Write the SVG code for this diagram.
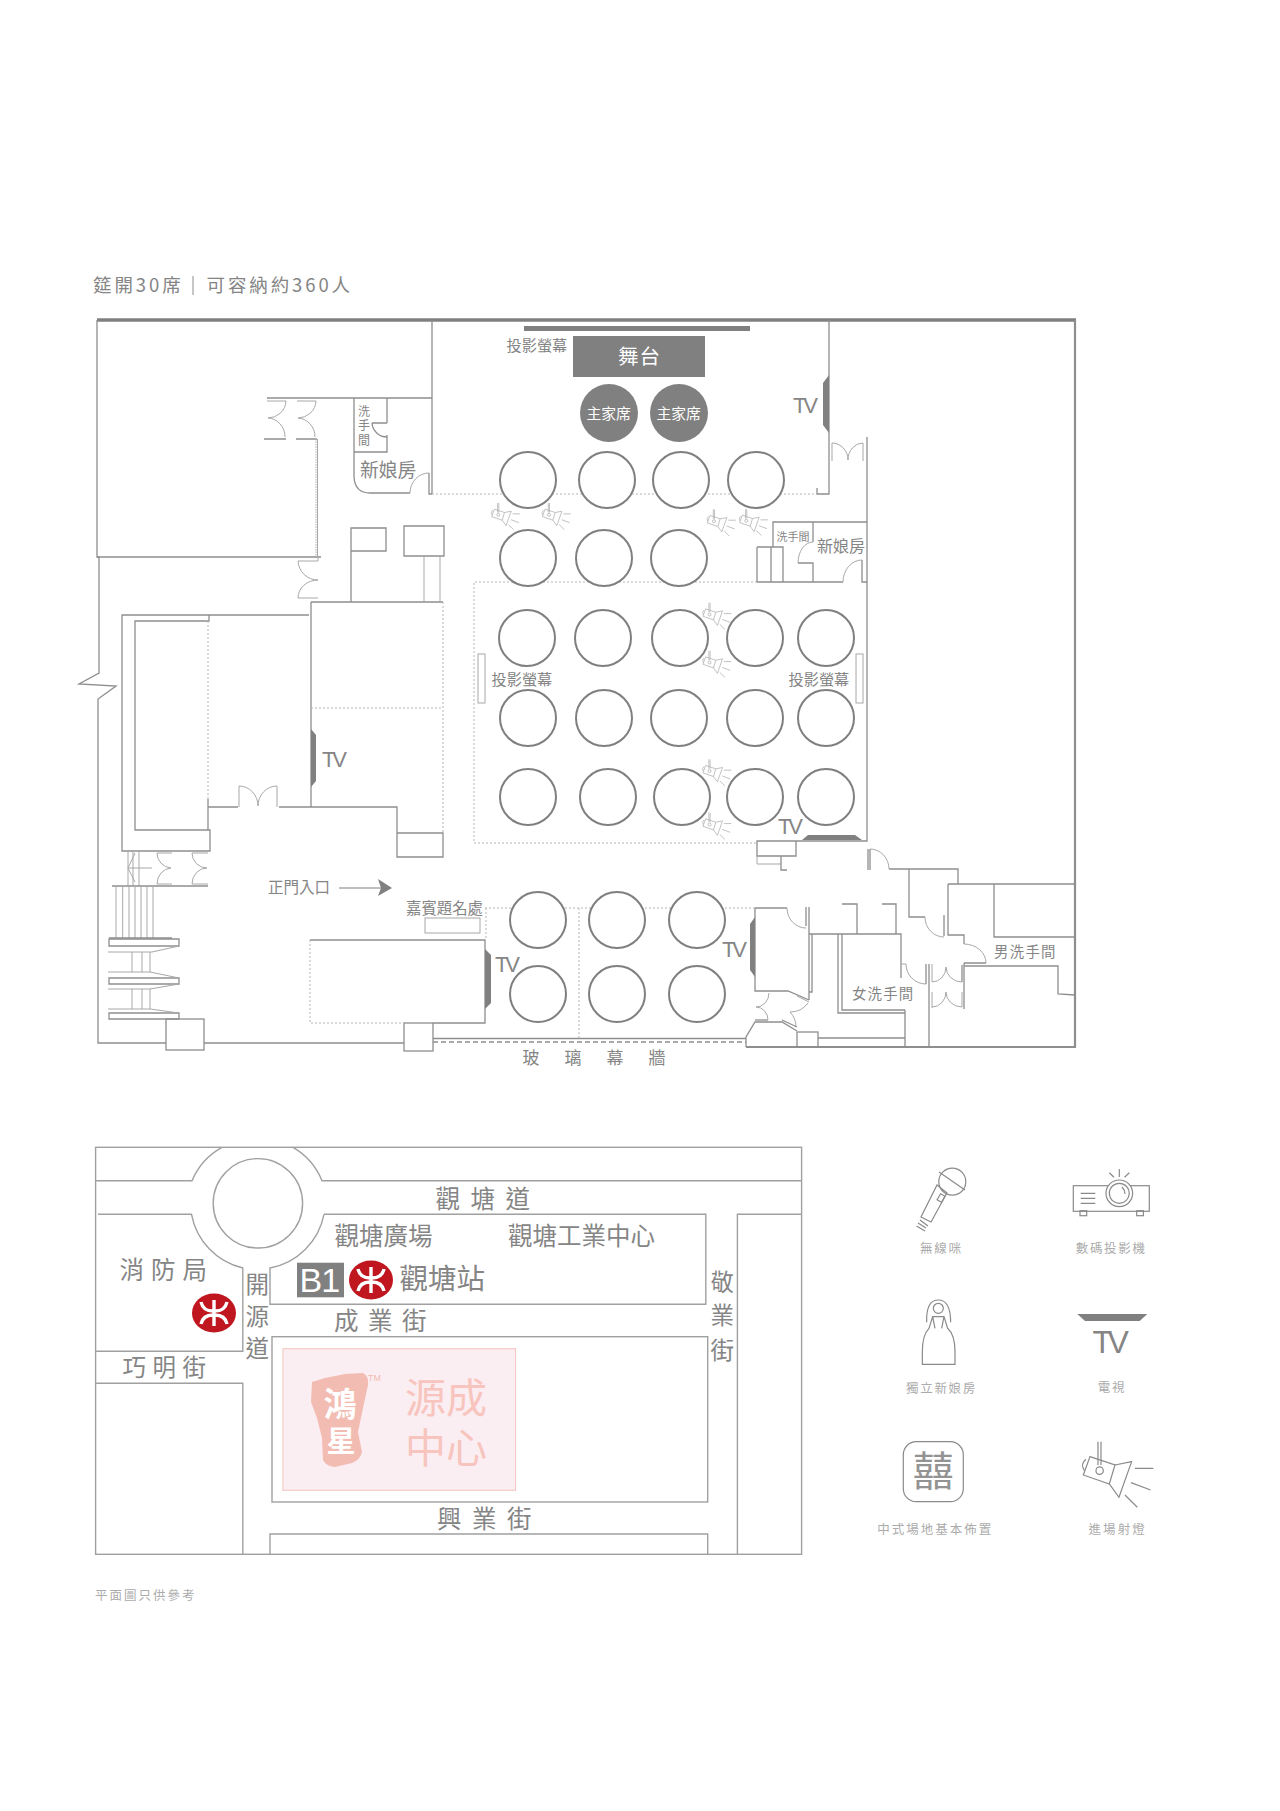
<svg xmlns="http://www.w3.org/2000/svg" xmlns:xlink="http://www.w3.org/1999/xlink" width="1280" height="1811" viewBox="0 0 1280 1811">
<style>
text{font-family:"Noto Sans CJK TC","Noto Sans CJK SC",sans-serif;fill:#858585}
.lat{font-family:"Liberation Sans",Arial,sans-serif}
.tv{letter-spacing:-3.2px;font-size:22px}
.w{fill:none;stroke:#8e8e8e;stroke-width:1.3}
.t{fill:none;stroke:#a8a8a8;stroke-width:1}
.d{fill:none;stroke:#b5b5b5;stroke-width:1;stroke-dasharray:2 2}
.tb{fill:#fff;stroke:#7f7f7f;stroke-width:2}
.dk{fill:#808080}
.m{fill:none;stroke:#a0a0a0;stroke-width:1.4}
.lg{fill:none;stroke:#8a8a8a;stroke-width:1.2}
.cap{fill:#ababab;font-size:12.5px;letter-spacing:1.7px}
</style>
<defs>
<g id="spot" fill="none">
<path d="M714 845V915M723 845V915"/><circle cx="719" cy="932" r="11"/>
<path d="M690 890L765 915L748 972L670 945Z"/><path d="M678 898Q660 912 673 932"/>
<path d="M765 915L815 905L777 1012L748 972"/>
<path d="M825 925H880M813 968L872 990M795 1005L832 1042"/>
</g>
<g id="mtr">
<ellipse cx="0" cy="0" rx="22" ry="19.6" fill="#bf1620"/>
<path d="M0 -13V13M-13 -11Q-11 -2 -1 -2H1Q11 -2 13 -11M-13 11Q-11 2 -1 2H1Q11 2 13 11" fill="none" stroke="#fff" stroke-width="3.4"/>
</g>
</defs>
<rect width="1280" height="1811" fill="#fff"/>

<g id="title">
<text x="93" y="292" font-size="18.500" letter-spacing="2.900" fill="#7c7c7c">筵開30席</text>
<line x1="193" y1="276" x2="193" y2="295" stroke="#a0a0a0" stroke-width="1.2"/>
<text x="206.500" y="292" font-size="18.500" letter-spacing="2.900" fill="#7c7c7c">可容納約360人</text>
</g>

<g id="floorplan">
<path d="M97 320H1076" fill="none" stroke="#808080" stroke-width="3.6"/>
<path class="w" style="stroke-width:2.2" d="M1075 320V1047H746M746 1047"/>
<g id="walls-left">
<path class="w" d="M97 320V557L99 557V673L79 684L116 686L98 699V1043H166"/>
<path class="w" d="M97 557H321M432 320V494"/>
<path class="w" d="M267 398H432"/>
<path class="w" d="M354 398V477Q355 493 370 493H410M387 398V423M387 435V452H354"/>
<path class="w" d="M429 473V494H432"/>
<path class="w" d="M372 423H387M372 423A15 15 0 0 0 387 437"/>
<path class="t" d="M410 493A19 20 0 0 1 429 473"/>
<path class="t" d="M267 401H286A18 18 0 0 1 268 418A18 19 0 0 1 285 437M297 401H316A18 18 0 0 1 298 418A18 19 0 0 1 315 437"/>
<path class="w" d="M264 439H286M296 439H317"/>
<path class="d" d="M316 439V557" style="stroke-dasharray:1.500 1"/>
<path class="t" d="M317.500 439V557"/>
<path class="t" d="M318 557V561H298A20 20 0 0 0 318 580A20 18 0 0 0 298 598H318"/>
<path class="w" d="M311 602H443M311 602V807"/>
<path class="d" d="M443 602V832M311 708H443"/>
<path class="w" d="M404 526H444V556H404ZM351 602V528H386V551H351"/>
<path class="t" d="M424 556V602M440 556V602"/>
<path class="w" d="M309 615H122V851H210V830H135V621H209V615"/>
<path class="d" d="M208 621V799"/>
<path class="w" d="M208 799V830"/>
<path class="w" d="M208 807H238M279 807H397V857H443V833H397"/>
<path class="t" d="M239 807V786A19 20 0 0 1 258 806A19 20 0 0 1 277 786V807"/>
<path class="t" d="M128 851V886M133 851V886M139 851V886M152 868H129M135 853L128 868L135 882"/>
<path class="t" d="M157 853H172M157 853A15 15 0 0 0 171 868A15 16 0 0 0 157 884H172M192 853H208M192 853A15 15 0 0 0 207 868A15 16 0 0 0 192 884H208"/>
<path class="w" d="M112 886H208"/>
<path class="t" d="M116 886V938M122.700 886V938M129 886V938M135 886V938M141 886V938M147 886V938M153 886V938"/>
<path class="w" d="M109 938H172"/>
<path class="w" d="M109 939H179V946H109ZM109 978H179V984H109ZM109 1013H179V1019H109Z"/>
<path class="t" d="M108 952H152L179 946M132 952V972M142 952V972M150 952V972M108 972H150L179 978M108 989H150L179 984M132 989V1009M142 989V1009M150 989V1009M108 1009H150L179 1013"/>
<rect class="w" x="166" y="1019" width="38" height="31"/>
<path class="w" d="M204 1043H404"/>
<rect class="w" x="404" y="1023" width="29" height="28"/>
<path class="w" d="M433 1038.500H746"/>
<path class="w" d="M433 1042H746" style="stroke-dasharray:5 3"/>
<path class="w" d="M310 940H485V1023H433"/>
<path class="d" d="M310 940V1023H404"/>
<rect class="t" x="425" y="918" width="55" height="15"/>
</g>
<g id="walls-right">
<path class="w" d="M829 320V494H817V488"/>
<path class="d" d="M432 494H817M486 908V940M485 908H755M579 908V1038"/>
<path class="d" d="M757 582H474V843H757"/>
<path class="t" d="M832 461V443A16 17 0 0 1 848 460A15 17 0 0 1 863 443V461"/>
<path class="w" d="M867 437V841H757V856H796V841"/>
<path class="t" d="M757 856V864H781"/>
<path class="w" d="M781 856V870H787"/>
<path class="w" d="M773 547V522H867M757 547H783V582M757 547V582M771 547V582M757 582H843M813 522V542M798 563H813V582M862 560V582H867"/>
<path class="t" d="M813 542A15 21 0 0 0 798 563M843 582A19 22 0 0 1 862 560"/>
<path class="w" d="M868 849V870M870 849V870M889 869H958V884M948 884H1075M909 869V917H925M948 884V935H964V944M944 915V936M994 884V937H1075M964 963H986M962 965V982M964 963V1009M964 966H1058V994L1075 995"/>
<path class="t" d="M870 849A19 20 0 0 1 889 869M925 917A19 20 0 0 0 944 937M964 944A22 19 0 0 1 986 963"/>
<path class="w" d="M809 934H901V978M838 934V1013H905M842 934V1010H905M905 1010V1047M929 964V1047M926 964V984M842 904H857V934M882 904H896V934"/>
<path class="t" d="M901 964H906A20 20 0 0 0 926 984M932 964V982A14 15 0 0 0 946 967A16 15 0 0 0 962 982M932 992V1008M932 1007A14 15 0 0 0 946 992A16 15 0 0 0 962 1007V992"/>
<path class="w" d="M755 908H787M755 908V991H788L809 1000M806 907V926M809 907V1000M812 934V992H809"/>
<path class="t" d="M787 908A19 20 0 0 0 806 928M769 993A13 14 0 0 1 756 1007A12 13 0 0 1 768 1020M797 996L809 1002M808 1003A22 22 0 0 1 790 1012A22 22 0 0 1 796 1027"/>
<path class="w" d="M746 1047V1037L755 1022H782L797 1031M797 1027L782 1020"/>
<path d="M755 1020H768" stroke="#b5b5b5" stroke-width="2"/>
<rect class="w" x="797" y="1032" width="21" height="15"/>
<path class="w" d="M818 1038H905"/>
</g>
<g id="screens">
<rect class="dk" x="524" y="326" width="226" height="5"/>
<rect class="t" x="478" y="654" width="7" height="49"/>
<rect class="t" x="856" y="654" width="7" height="49"/>
<polygon class="dk" points="829,375 823,383 823,425 829,433"/>
<polygon class="dk" points="311,729 316,735 316,781 311,787"/>
<polygon class="dk" points="485,949 491,955 491,1003 485,1009"/>
<polygon class="dk" points="755,917 750,924 750,970 755,977"/>
<polygon class="dk" points="802,840 808,835 855,835 862,840"/>
</g>
<g id="stage">
<rect class="dk" x="573" y="336" width="132" height="41"/>
<text x="618" y="364" font-size="20.500" letter-spacing="1" style="fill:#fff">舞台</text>
</g>
<g id="head-tables">
<circle class="dk" cx="609" cy="413" r="29"/><circle class="dk" cx="679" cy="413" r="29"/>
<text x="586.500" y="419" font-size="14.800" style="fill:#fff">主家席</text>
<text x="656.500" y="419" font-size="14.800" style="fill:#fff">主家席</text>
</g>
<g id="tables">
<circle class="tb" cx="528" cy="480" r="28"/><circle class="tb" cx="607" cy="480" r="28"/><circle class="tb" cx="681" cy="480" r="28"/><circle class="tb" cx="756" cy="480" r="28"/>
<circle class="tb" cx="528" cy="558" r="28"/><circle class="tb" cx="604" cy="558" r="28"/><circle class="tb" cx="679" cy="558" r="28"/>
<circle class="tb" cx="527" cy="638" r="28"/><circle class="tb" cx="603" cy="638" r="28"/><circle class="tb" cx="680" cy="638" r="28"/><circle class="tb" cx="755" cy="638" r="28"/><circle class="tb" cx="826" cy="638" r="28"/>
<circle class="tb" cx="528" cy="718" r="28"/><circle class="tb" cx="604" cy="718" r="28"/><circle class="tb" cx="679" cy="718" r="28"/><circle class="tb" cx="755" cy="718" r="28"/><circle class="tb" cx="826" cy="718" r="28"/>
<circle class="tb" cx="528" cy="797" r="28"/><circle class="tb" cx="608" cy="797" r="28"/><circle class="tb" cx="682" cy="797" r="28"/><circle class="tb" cx="755" cy="797" r="28"/><circle class="tb" cx="826" cy="797" r="28"/>
<circle class="tb" cx="538" cy="920" r="28"/><circle class="tb" cx="617" cy="920" r="28"/><circle class="tb" cx="697" cy="920" r="28"/>
<circle class="tb" cx="538" cy="994" r="28"/><circle class="tb" cx="617" cy="994" r="28"/><circle class="tb" cx="697" cy="994" r="28"/>
</g>
<g id="spotlights" stroke="#b4b4b4" stroke-width="6">
<use xlink:href="#spot" transform="translate(401.200 389) scale(.135)"/>
<use xlink:href="#spot" transform="translate(451.900 389) scale(.135)"/>
<use xlink:href="#spot" transform="translate(616.900 395.300) scale(.135)"/>
<use xlink:href="#spot" transform="translate(649.200 395) scale(.135)"/>
<use xlink:href="#spot" transform="translate(612.500 488.700) scale(.135)"/>
<use xlink:href="#spot" transform="translate(612.500 536.700) scale(.135)"/>
<use xlink:href="#spot" transform="translate(612.500 645.300) scale(.135)"/>
<use xlink:href="#spot" transform="translate(612.500 698.700) scale(.135)"/>
</g>
<g id="arrow">
<line x1="339" y1="888" x2="382" y2="888" stroke="#808080" stroke-width="1.200"/>
<polygon class="dk" points="378,879 392,888 378,896 381,888"/>
</g>
<g id="plan-labels">
<text x="506.500" y="350.500" font-size="15.200">投影螢幕</text>
<text x="491.500" y="684.500" font-size="15.200">投影螢幕</text>
<text x="788.500" y="684.500" font-size="15.200">投影螢幕</text>
<text x="358" y="416" font-size="12">洗</text>
<text x="358" y="430" font-size="12">手</text>
<text x="358" y="445" font-size="12">間</text>
<text x="360" y="476.500" font-size="18.800">新娘房</text>
<text x="776.500" y="540.500" font-size="11">洗手間</text>
<text x="817" y="552" font-size="16">新娘房</text>
<text x="268" y="892.500" font-size="15.500">正門入口</text>
<text x="406" y="913.500" font-size="15.400">嘉賓題名處</text>
<text x="852" y="999" font-size="14.400" letter-spacing="1.200">女洗手間</text>
<text x="994" y="957" font-size="14.400" letter-spacing="1.300">男洗手間</text>
<text x="522.500" y="1063.500" font-size="17" letter-spacing="25">玻璃幕牆</text>
<text class="lat tv" x="793" y="413">TV</text>
<text class="lat tv" x="322" y="767">TV</text>
<text class="lat tv" x="495" y="972">TV</text>
<text class="lat tv" x="722" y="957">TV</text>
<text class="lat tv" x="778" y="834">TV</text>
</g>
</g>

<g id="map">
<rect class="m" x="95.600" y="1147.300" width="706" height="407"/>
<circle class="m" cx="257.900" cy="1203.300" r="44.700"/>
<path class="m" d="M95.600 1180.700H192A68 68 0 0 1 222 1147.300M293 1147.300A68 68 0 0 1 322 1180.700H801.600"/>
<path class="m" d="M98 1214.300H191.500A68 68 0 0 0 242.800 1268V1351.300H95.600M95.600 1383.300H242.800V1554"/>
<path class="m" d="M324 1214.300H705.800V1304.300H270V1268A68 68 0 0 0 324 1214.300"/>
<rect class="m" x="272" y="1336.700" width="435.700" height="165.300"/>
<path class="m" d="M270 1554V1534H707.700V1554M737.400 1554V1214.300H801.600"/>
<g id="venue">
<rect x="282.900" y="1348.700" width="232.700" height="141.600" fill="#fbeef2" stroke="#f6c3bd" stroke-width="1"/>
<path d="M312 1382L325 1378L345 1374L363 1373Q369 1376 368 1385L363 1408L358 1432L362 1452Q360 1460 352 1463L335 1467Q326 1466 323 1460L322 1438L317 1418L311 1402Z" fill="#f3bcb3"/>
<text x="340" y="1416" font-size="33" font-weight="700" text-anchor="middle" style="fill:#fff">鴻</text>
<text x="341" y="1452" font-size="29" font-weight="700" text-anchor="middle" style="fill:#fff">星</text>
<text class="lat" x="368" y="1381" font-size="9" style="fill:#f3bcb3">TM</text>
<text x="405" y="1412.500" font-size="41" style="fill:#f7c5be">源成</text>
<text x="405" y="1462.500" font-size="41" style="fill:#f7c5be">中心</text>
</g>
<rect class="dk" x="297" y="1262.700" width="47" height="34.600"/>
<text class="lat" x="299.500" y="1292" font-size="34" letter-spacing="-1" style="fill:#fff">B1</text>
<use xlink:href="#mtr" transform="translate(371 1280)"/>
<use xlink:href="#mtr" transform="translate(214 1313)"/>
<g id="map-labels" font-size="24.500">
<text x="435.500" y="1207.500" letter-spacing="10.500">觀塘道</text>
<text x="334.500" y="1244.500">觀塘廣場</text>
<text x="508" y="1244.500">觀塘工業中心</text>
<text x="399.500" y="1289" font-size="28.500">觀塘站</text>
<text x="119.500" y="1279" letter-spacing="7">消防局</text>
<text x="122.500" y="1376" font-size="23.500" letter-spacing="6.500">巧明街</text>
<text x="245.500" y="1293" font-size="23.500">開</text><text x="245.500" y="1325" font-size="23.500">源</text><text x="245.500" y="1357" font-size="23.500">道</text>
<text x="710.500" y="1291" font-size="23.500">敬</text><text x="710.500" y="1324" font-size="23.500">業</text><text x="710.500" y="1359" font-size="23.500">街</text>
<text x="334" y="1330" letter-spacing="9.500">成業街</text>
<text x="437" y="1528" letter-spacing="10.500">興業街</text>
</g>
</g>
<text id="note" x="95" y="1600" font-size="12.500" letter-spacing="2" style="fill:#ababab">平面圖只供參考</text>

<g id="legend">
<g id="legend-mic" class="lg">
<circle cx="952.300" cy="1181.700" r="13.500"/>
<path d="M939 1172L965 1190M937 1185L947 1193L931 1222L921 1217Z"/>
<rect x="-2.500" y="-3.500" width="5" height="7" transform="translate(941 1198) rotate(30)"/>
<path d="M920 1220L928 1226M918 1223L926 1228M916.500 1226L925 1231"/>
</g>
<text class="cap" x="920" y="1252.700">無線咪</text>
<g id="legend-projector" class="lg">
<rect x="1073.300" y="1185.700" width="76" height="25.600"/>
<circle cx="1119.300" cy="1193.300" r="13.300" fill="#fff"/>
<circle cx="1119.300" cy="1193.300" r="10"/>
<path d="M1122 1187Q1125 1190 1125 1194"/>
<path d="M1080.700 1193.300H1095.300M1080.700 1198.300H1095.300M1080.700 1203.300H1095.300"/>
<rect x="1080" y="1210.700" width="6.700" height="5"/><rect x="1136.700" y="1210.700" width="6.700" height="5"/>
<path d="M1119.300 1169V1177M1109.300 1172.700L1114 1177.300M1129.300 1172.700L1124.600 1177.300"/>
</g>
<text class="cap" x="1075.700" y="1252.700">數碼投影機</text>
<g id="legend-bride" class="lg" transform="translate(860 1160) scale(.3333)" style="stroke-width:3.600">
<circle cx="235" cy="445" r="15"/>
<path d="M200 487Q198 420 235 420Q272 420 272 487"/>
<path d="M187 613H285V575Q285 525 263 505L252 470H218L207 505Q187 525 187 575ZM225 505L218 470M245 505L252 470"/>
</g>
<text class="cap" x="906" y="1392.700">獨立新娘房</text>
<polygon class="dk" points="1077.300,1314 1147.300,1314 1139.700,1321 1085,1321"/>
<text class="lat" x="1092.500" y="1352.700" font-size="32" letter-spacing="-4.500">TV</text>
<text class="cap" x="1097.700" y="1392">電視</text>
<g id="legend-setup">
<rect class="lg" x="903.300" y="1441.700" width="60" height="60" rx="13"/>
<text x="933.300" y="1486" font-size="41" text-anchor="middle" style="fill:#939393">囍</text>
</g>
<text class="cap" x="877.300" y="1534" style="letter-spacing:2px">中式場地基本佈置</text>
<use xlink:href="#spot" transform="translate(860 1160) scale(.3333)" stroke="#8a8a8a" stroke-width="3.600"/>
<text class="cap" x="1088.500" y="1534" style="letter-spacing:2.100px">進場射燈</text>
</g>
</svg>
